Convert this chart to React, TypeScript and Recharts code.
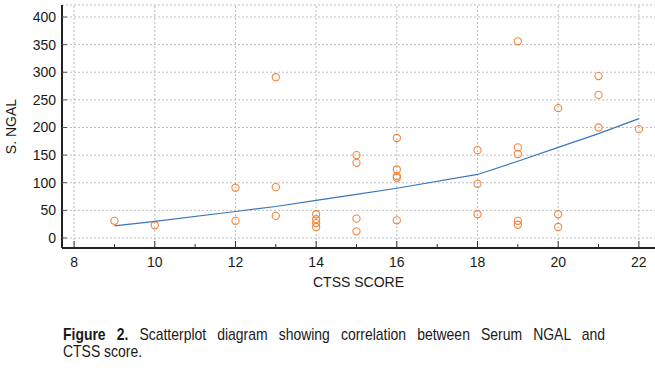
import { ScatterChart, Scatter, XAxis, YAxis, CartesianGrid, ReferenceLine, Label } from "recharts";

// observed points (CTSS score vs serum NGAL)
const ctssScores = [9, 10, 12, 12, 13, 13, 13, 14, 14, 14, 14, 15, 15, 15, 15, 16, 16, 16, 16, 16, 18, 18, 18, 19, 19, 19, 19, 19, 20, 20, 20, 21, 21, 21, 22];
const ngalValues = [31, 23, 91, 31, 291, 92, 40, 43, 34, 27, 20, 150, 136, 35, 12, 181, 124, 112, 109, 32, 159, 98, 43, 356, 164, 152, 31, 24, 235, 43, 20, 293, 259, 200, 197];

// fitted curve
const trendScores = [9, 10, 12, 13, 14, 15, 16, 18, 19, 20, 21, 22];
const trendValues = [22, 30, 48, 57, 68, 79, 90, 115, 139, 164, 189, 216];

const scoreTicks = [8, 9, 10, 11, 12, 13, 14, 15, 16, 17, 18, 19, 20, 21, 22];
const scoreGrid = [8, 10, 12, 14, 16, 18, 20, 22];
const ngalTicks = [0, 50, 100, 150, 200, 250, 300, 350, 400];

const points = ctssScores.map((x, i) => ({ x, y: ngalValues[i] }));
const trend = trendScores.map((x, i) => ({ x, y: trendValues[i] }));

const FONT = "'Liberation Sans', Arial, sans-serif";

function ScoreTick(props: any) {
  const { x, y, payload } = props;
  const axisY = y - 9;
  const major = payload.value % 2 === 0;
  return (
    <g>
      <line x1={x} y1={axisY} x2={x} y2={axisY - (major ? 7 : 4)} stroke="#333" strokeWidth={1} />
      {major && (
        <text x={x} y={y} dy="0.71em" textAnchor="middle" fontSize={14} fill="#1a1a1a" fontFamily={FONT}>
          {payload.value}
        </text>
      )}
    </g>
  );
}

function NgalTick(props: any) {
  const { x, y, payload } = props;
  const axisX = x + 6;
  return (
    <g>
      <line x1={axisX} y1={y} x2={axisX + 5} y2={y} stroke="#555" strokeWidth={1} />
      <text x={x} y={y} dy="0.355em" textAnchor="end" fontSize={14} fill="#1a1a1a" fontFamily={FONT}>
        {payload.value}
      </text>
    </g>
  );
}

function Ring(props: any) {
  return <circle cx={props.cx} cy={props.cy} r={3.6} fill="none" stroke="#f4843a" strokeWidth={1.1} />;
}

export default function App() {
  return (
    <div style={{ position: "absolute", left: 0, top: 0, width: 655, height: 368, background: "#fff" }}>
      <ScatterChart width={655} height={300} margin={{ top: 5, right: 0, bottom: 12, left: 0 }} style={{ fontFamily: FONT }}>
        <CartesianGrid vertical={false} stroke="#bdbdbd" strokeDasharray="2 2" />
        {scoreGrid.map((v) => (
          <ReferenceLine key={v} x={v} stroke="#bdbdbd" strokeDasharray="2 2" />
        ))}
        <XAxis
          type="number"
          dataKey="x"
          domain={[7.7, 22.4]}
          ticks={scoreTicks}
          interval={0}
          height={40}
          tickSize={0}
          tickMargin={9}
          tick={<ScoreTick />}
          axisLine={{ stroke: "#222", strokeWidth: 2 }}
        >
          <Label value="CTSS SCORE" position="insideBottom" offset={1} fontSize={14} fill="#1a1a1a" />
        </XAxis>
        <YAxis
          type="number"
          dataKey="y"
          domain={[-18.1, 421.7]}
          ticks={ngalTicks}
          interval={0}
          width={62}
          tickSize={0}
          tickMargin={6}
          tick={<NgalTick />}
          axisLine={{ stroke: "#222", strokeWidth: 2 }}
        >
          <Label
            content={(p: any) => {
              const vb = p.viewBox;
              const cy = vb.y + vb.height / 2;
              return (
                <text x={11} y={cy} transform={`rotate(-90 11 ${cy})`} textAnchor="middle" dominantBaseline="central" fontSize={14} fill="#1a1a1a" fontFamily={FONT}>
                  S. NGAL
                </text>
              );
            }}
          />
        </YAxis>
        <Scatter data={points} shape={<Ring />} isAnimationActive={false} />
        <Scatter data={trend} line={{ stroke: "#3a76bd", strokeWidth: 1.2 }} shape={() => <g />} isAnimationActive={false} />
      </ScatterChart>
      <div
        style={{
          position: "absolute",
          left: 63,
          top: 326,
          width: 661,
          transform: "scaleX(0.82)",
          transformOrigin: "0 0",
          fontFamily: FONT,
          fontSize: 17,
          lineHeight: "17px",
          color: "#1a1a1a",
        }}
      >
        <div style={{ textAlign: "justify", textAlignLast: "justify" }}>
          <b>Figure 2.</b> Scatterplot diagram showing correlation between Serum NGAL and
        </div>
        <div>CTSS score.</div>
      </div>
    </div>
  );
}
